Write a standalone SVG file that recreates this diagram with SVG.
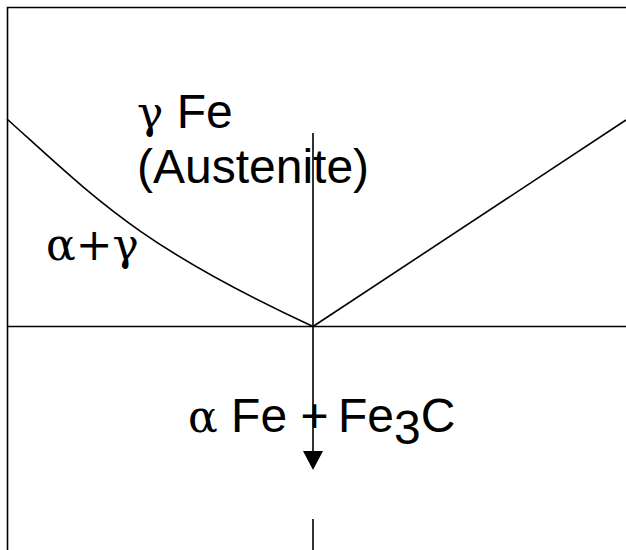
<svg xmlns="http://www.w3.org/2000/svg" width="626" height="550" viewBox="0 0 626 550">
<style>
.ln{stroke:#000;stroke-width:1.6;fill:none}
.sans{font-family:"Liberation Sans",Arial,sans-serif;font-size:48px;fill:#000}
.serif{font-family:"DejaVu Serif","Liberation Serif",serif;font-size:44px;fill:#000}
</style>
<rect width="626" height="550" fill="#fff"/>
<g id="frame">
<path class="ln" d="M7.5,550 V7.5 H626" stroke-width="2"/>
<line class="ln" x1="7" y1="326.5" x2="626" y2="326.5"/>
</g>
<g id="phase-boundaries">
<path class="ln" d="M7,119 C96.5,199.5 141,247 313,326.5"/>
<line class="ln" x1="313" y1="326.5" x2="626" y2="120"/>
</g>
<g id="connectors">
<line class="ln" x1="313" y1="133" x2="313" y2="454"/>
<polygon points="303,451 323,451 313,470" fill="#000"/>
<line class="ln" x1="313" y1="519" x2="313" y2="550" stroke-width="2"/>
</g>
<g id="label-gamma">
<text x="137" y="128"><tspan class="serif">γ</tspan><tspan class="sans"> Fe</tspan></text>
<text class="sans" x="137" y="183">(Austenite)</text>
</g>
<g id="label-alpha-gamma">
<text class="serif" x="46" y="260" font-size="42">α+γ</text>
</g>
<g id="label-alpha-fe3c">
<text x="188" y="432"><tspan class="serif">α</tspan><tspan class="sans"> Fe +</tspan><tspan class="sans" x="338">Fe</tspan><tspan class="sans" font-size="28" dy="12">3</tspan><tspan class="sans" dy="-12">C</tspan></text>
</g>
</svg>
